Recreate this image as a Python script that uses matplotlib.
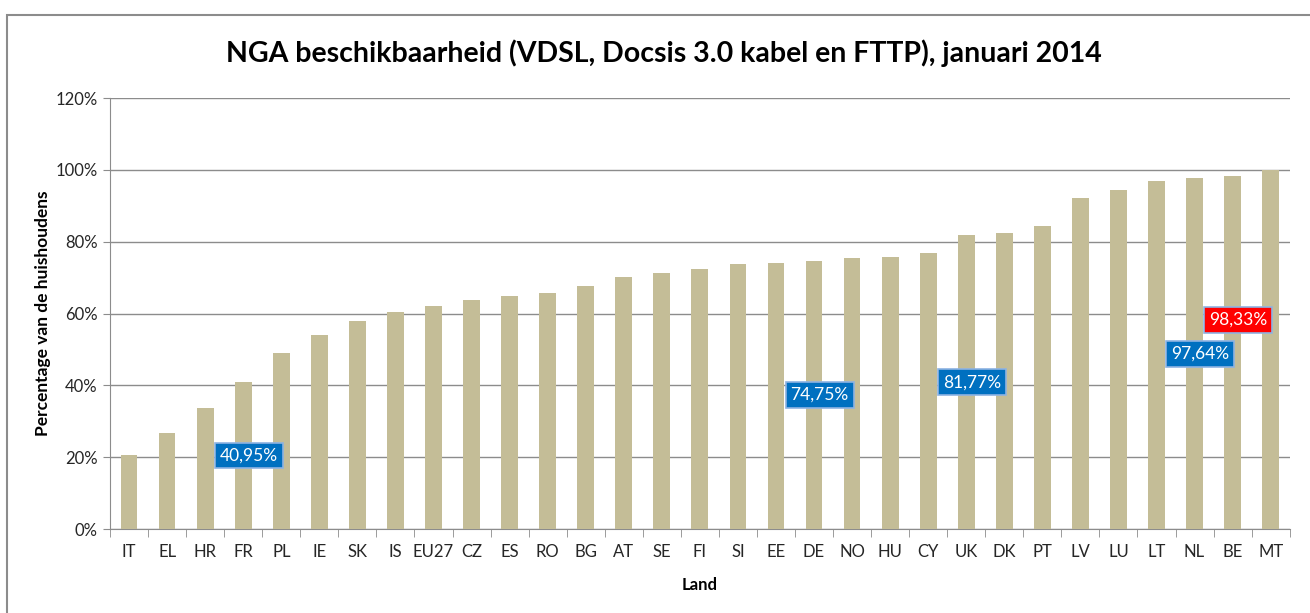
import matplotlib
matplotlib.use("Agg")
import matplotlib.pyplot as plt
from matplotlib.patches import Rectangle
from matplotlib.ticker import FuncFormatter, MultipleLocator

# NGA availability per country, January 2014 (share of households, %)
countries = ["IT", "EL", "HR", "FR", "PL", "IE", "SK", "IS", "EU27", "CZ",
             "ES", "RO", "BG", "AT", "SE", "FI", "SI", "EE", "DE", "NO",
             "HU", "CY", "UK", "DK", "PT", "LV", "LU", "LT", "NL", "BE", "MT"]
values = [20.6, 26.7, 33.7, 40.95, 49.0, 54.0, 58.0, 60.5, 62.0, 63.8,
          64.9, 65.8, 67.7, 70.1, 71.2, 72.3, 73.8, 74.1, 74.75, 75.5,
          75.8, 76.9, 81.77, 82.4, 84.4, 92.1, 94.4, 96.8, 97.64, 98.33, 100.0]

# Highlighted countries: (country, box colour, label height in %)
callouts = [("FR", "#0070C0", None),
            ("DE", "#0070C0", None),
            ("UK", "#0070C0", None),
            ("NL", "#0070C0", None),
            ("BE", "#FF0000", 58.2)]

bar_color = "#C4BD97"
grid_color = "#8C8C8C"
text_color = "#262626"
font = ["Lato", "DejaVu Sans"]

plt.rcParams["font.family"] = font

fig = plt.figure(figsize=(13.1, 6.13), dpi=100)
ax = fig.add_axes([0.084, 0.137, 0.9005, 0.703])

x = list(range(len(countries)))
ax.bar(x, values, width=0.44, color=bar_color, zorder=3)

ax.set_xlim(-0.5, len(countries) - 0.5)
ax.set_ylim(0, 120)
ax.yaxis.set_major_locator(MultipleLocator(20))
ax.yaxis.set_major_formatter(FuncFormatter(lambda v, _: f"{v:.0f}%"))
ax.grid(axis="y", color=grid_color, linewidth=1.0, zorder=0)
ax.set_axisbelow(True)

ax.set_xticks(x)
ax.set_xticklabels(countries)
ax.set_xticks([i - 0.5 for i in range(len(countries) + 1)], minor=True)
ax.tick_params(axis="x", which="major", length=0, pad=11,
               labelsize=12, labelcolor=text_color)
ax.tick_params(axis="x", which="minor", length=6, color=grid_color,
               direction="out")
ax.tick_params(axis="y", length=5, color=grid_color, labelsize=12,
               labelcolor=text_color, pad=4)

for side in ("top", "right"):
    ax.spines[side].set_visible(False)
ax.spines["left"].set_color(grid_color)
ax.spines["bottom"].set_color(grid_color)

ax.set_ylabel("Percentage van de huishoudens", fontsize=12.5,
              fontweight="bold", color="black", labelpad=3)
ax.set_xlabel("Land", fontsize=12, fontweight="bold", color="black",
              labelpad=12)

# Value callouts for selected countries
for name, color, ypos in callouts:
    i = countries.index(name)
    v = values[i]
    y = v / 2 if ypos is None else ypos
    label = f"{v:.2f}%".replace(".", ",")
    ax.text(i + 0.15, y, label, ha="center", va="center", fontsize=12.5,
            color="white", zorder=5,
            bbox=dict(boxstyle="square,pad=0.28", facecolor=color,
                      edgecolor="#8DB3E2", linewidth=1.2))

fig.text(0.507, 0.913, "NGA beschikbaarheid (VDSL, Docsis 3.0 kabel en FTTP), januari 2014",
         ha="center", va="center", fontsize=20.5, fontweight="bold",
         color="black")

# Chart area frame
fig.patches.append(Rectangle((7 / 1310, -0.1), 1.2, 1 - 15 / 613 + 0.1,
                             transform=fig.transFigure, fill=False,
                             edgecolor="#8C8C8C", linewidth=1.5))

fig.savefig("out.png", dpi=100)
